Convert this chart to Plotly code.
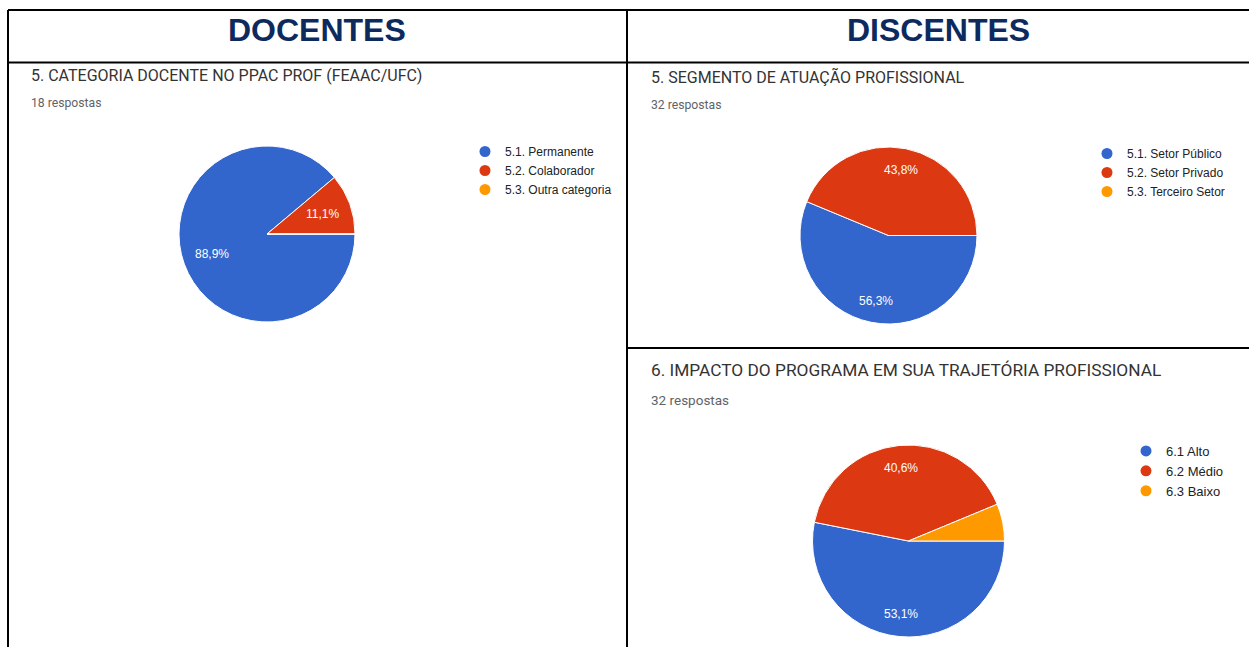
import math
from decimal import Decimal, ROUND_HALF_UP
import plotly.graph_objects as go

# ---------------- data ----------------
doc_labels = ["5.1. Permanente", "5.2. Colaborador", "5.3. Outra categoria"]
doc_values = [16, 2, 0]

seg_labels = ["5.1. Setor Público", "5.2. Setor Privado", "5.3. Terceiro Setor"]
seg_values = [18, 14, 0]

imp_labels = ["6.1 Alto", "6.2 Médio", "6.3 Baixo"]
imp_values = [17, 13, 2]

colors = ["#3366CC", "#DC3912", "#FF9900"]

W, H = 1249, 647
START = 90  # degrees clockwise from 12 o'clock


def px_domain(cx, cy, r):
    return dict(x=[(cx - r) / W, (cx + r) / W], y=[1 - (cy + r) / H, 1 - (cy - r) / H])


def pct_text(v, tot):
    p = (Decimal(v) * 100 / Decimal(tot)).quantize(Decimal("0.1"), rounding=ROUND_HALF_UP)
    return str(p).replace(".", ",") + "%"


fig = go.Figure()

# (labels, values, centre x, centre y, radius, legend, label distance factor)
pies = [
    (doc_labels, doc_values, 267, 234, 88, "legend", 0.67),
    (seg_labels, seg_values, 888.5, 235.5, 88.5, "legend2", 0.75),
    (imp_labels, imp_values, 908.5, 541, 96, "legend3", 0.76),
]

for labels, values, cx, cy, r, leg, fac in pies:
    fig.add_trace(go.Pie(
        labels=labels, values=values, sort=False, direction="clockwise", rotation=START,
        marker=dict(colors=colors, line=dict(color="white", width=1)),
        textinfo="none",
        domain=px_domain(cx, cy, r), showlegend=False, hoverinfo="label+percent",
    ))
    for lab, col in zip(labels, colors):
        fig.add_trace(go.Scatter(
            x=[None], y=[None], mode="markers", name=lab,
            marker=dict(color=col, size=11, symbol="circle"),
            legend=leg, showlegend=True,
        ))
    # slice percentage labels placed along each slice's bisector (Google-chart style)
    tot = sum(values)
    acc = 0
    for v in values:
        frac = v / tot
        mid = math.radians(START + 360 * (acc + frac / 2))
        acc += frac
        if frac < 0.08:
            continue
        lx = cx + fac * r * math.sin(mid)
        ly = cy - fac * r * math.cos(mid)
        fig.add_annotation(text=pct_text(v, tot), x=lx / W, y=1 - ly / H,
                           xref="paper", yref="paper",
                           xanchor="center", yanchor="middle", showarrow=False,
                           font=dict(family="Liberation Sans, Arial", size=12, color="white"))

legend_common = dict(
    xanchor="left", yanchor="top", bgcolor="rgba(0,0,0,0)", borderwidth=0,
    itemwidth=30, tracegroupgap=0,
)

fig.update_layout(
    width=W, height=H, autosize=False,
    margin=dict(l=0, r=0, t=0, b=0),
    paper_bgcolor="white", plot_bgcolor="white",
    xaxis=dict(visible=False), yaxis=dict(visible=False),
    legend=dict(x=465 / W, y=1 - 137 / H,
                font=dict(family="Liberation Sans, Arial", size=12, color="#222222"),
                **legend_common),
    legend2=dict(x=1087 / W, y=1 - 139 / H,
                 font=dict(family="Liberation Sans, Arial", size=12, color="#222222"),
                 **legend_common),
    legend3=dict(x=1126 / W, y=1 - 436 / H,
                 font=dict(family="Liberation Sans, Arial", size=13, color="#222222"),
                 **legend_common),
)

# table lines
line_style = dict(color="black", width=2)
table_lines = [
    (8, 10, W, 10),
    (8, 10, 8, H),
    (8, 62.5, W, 62.5),
    (627, 10, 627, H),
    (627, 348, W, 348),
]
for x0, y0, x1, y1 in table_lines:
    fig.add_shape(type="line", xref="paper", yref="paper",
                  x0=x0 / W, x1=x1 / W, y0=1 - y0 / H, y1=1 - y1 / H, line=line_style)

header_font = dict(family="Liberation Sans, Arial", size=32, color="#0d2a5e")
fig.add_annotation(text="<b>DOCENTES</b>", x=317 / W, y=1 - 30 / H, xref="paper", yref="paper",
                   xanchor="center", yanchor="middle", showarrow=False, font=header_font)
fig.add_annotation(text="<b>DISCENTES</b>", x=938 / W, y=1 - 30 / H, xref="paper", yref="paper",
                   xanchor="center", yanchor="middle", showarrow=False, font=header_font)

texts = [
    ("5. CATEGORIA DOCENTE NO PPAC PROF (FEAAC/UFC)", 29, 76, 16, "#333333"),
    ("18 respostas", 29, 103, 12.2, "#5f6368"),
    ("5. SEGMENTO DE ATUAÇÃO PROFISSIONAL", 649, 77, 16, "#333333"),
    ("32 respostas", 649, 105, 12.2, "#5f6368"),
    ("6. IMPACTO DO PROGRAMA EM SUA TRAJETÓRIA PROFISSIONAL", 649, 370, 17.3, "#333333"),
    ("32 respostas", 649, 400, 13.5, "#5f6368"),
]
for t, x, y, s, c in texts:
    fig.add_annotation(text=t, x=x / W, y=1 - y / H, xref="paper", yref="paper",
                       xanchor="left", yanchor="middle", showarrow=False,
                       font=dict(family="Roboto, Arial", size=s, color=c))

fig.write_html("out.html", config={"displayModeBar": False},
               post_script="document.body.style.margin='0';")
